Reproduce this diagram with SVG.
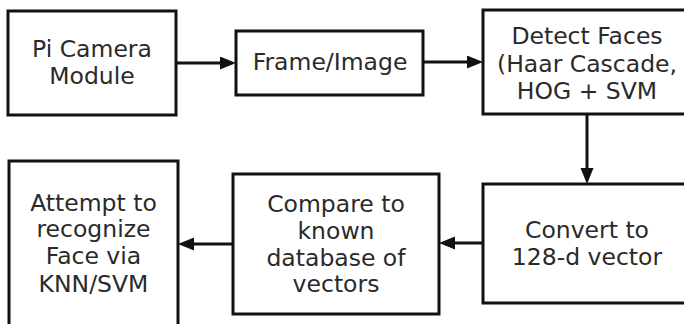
<svg xmlns="http://www.w3.org/2000/svg" width="684" height="324" viewBox="0 0 684 324">
<style>
.box{fill:#fff;stroke:#111;stroke-width:3}
.lbl{font-family:"DejaVu Sans","Liberation Sans",sans-serif;font-size:23.5px;fill:#2a2a2a;text-anchor:middle}
.conn{stroke:#111;stroke-width:3;fill:none;marker-end:url(#ah)}
</style>
<defs>
<marker id="ah" markerUnits="userSpaceOnUse" markerWidth="16" markerHeight="14" refX="8" refY="6.5" orient="auto">
<path d="M0,0 L16,6.5 L0,13 z" fill="#111"/>
</marker>
</defs>
<rect width="684" height="324" fill="#fff"/>
<g id="connectors">
<path class="conn" d="M176,63 L228,63"/>
<path class="conn" d="M423,62 L475,62"/>
<path class="conn" d="M587,114 L587,176"/>
<path class="conn" d="M483,243 L447,243"/>
<path class="conn" d="M233,244 L186,244"/>
</g>
<g id="pi-camera">
<rect class="box" x="8" y="11" width="168" height="104"/>
<text class="lbl" x="92" y="57">Pi Camera</text>
<text class="lbl" x="92" y="84">Module</text>
</g>
<g id="frame-image">
<rect class="box" x="236" y="31" width="187" height="64"/>
<text class="lbl" x="330" y="70">Frame/Image</text>
</g>
<g id="detect-faces">
<rect class="box" x="483" y="10" width="208" height="104"/>
<text class="lbl" x="587" y="44">Detect Faces</text>
<text class="lbl" x="587" y="72">(Haar Cascade,</text>
<text class="lbl" x="587" y="99">HOG + SVM</text>
</g>
<g id="convert">
<rect class="box" x="483" y="184" width="208" height="119"/>
<text class="lbl" x="587" y="238">Convert to</text>
<text class="lbl" x="587" y="265">128-d vector</text>
</g>
<g id="compare">
<rect class="box" x="233" y="174" width="206" height="140"/>
<text class="lbl" x="336" y="212">Compare to</text>
<text class="lbl" x="336" y="239">known</text>
<text class="lbl" x="336" y="266">database of</text>
<text class="lbl" x="336" y="292">vectors</text>
</g>
<g id="attempt">
<rect class="box" x="9" y="161" width="169" height="175"/>
<text class="lbl" x="93.5" y="211">Attempt to</text>
<text class="lbl" x="93.5" y="237">recognize</text>
<text class="lbl" x="93.5" y="264">Face via</text>
<text class="lbl" x="93.5" y="292">KNN/SVM</text>
</g>
</svg>
